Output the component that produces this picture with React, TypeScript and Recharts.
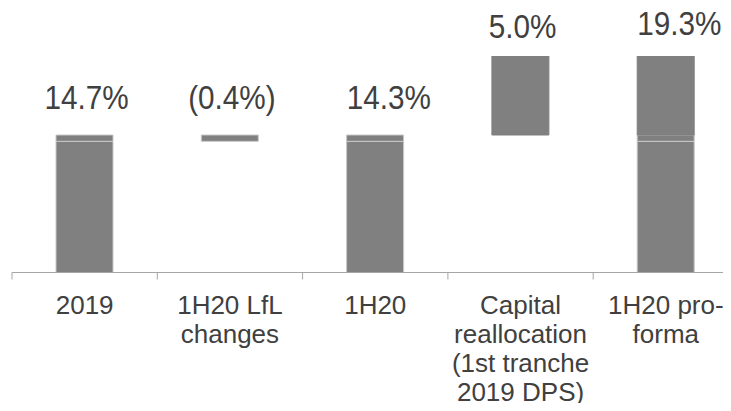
import React from "react";
import { ComposedChart, Bar, Line, XAxis, YAxis, LabelList } from "recharts";

// ---- data ----
const categories = [
  "2019",
  "1H20 LfL\nchanges",
  "1H20",
  "Capital\nreallocation\n(1st tranche\n2019 DPS)",
  "1H20 pro-\nforma",
];
const valueLabels = ["14.7%", "(0.4%)", "14.3%", "5.0%", "19.3%"];
// invisible offset under the floating bars
const floatBase = [0, 14.3, 0, 14.7, 0];
// drawn segments (stacked)
const coreSegment = [14.3, 0, 14.3, 0, 14.3];
const changeSegment = [0.4, 0.4, 0.4, 0, 0.4];
const upliftSegment = [0, 0, 0, 5.0, 5.0];
const yDomain: [number, number] = [6, 19.7];

// ---- layout / style ----
const PAGE_W = 731;
const PAGE_H = 411;
const CHART_W = 748;
const MARGIN = { top: 56, right: 9.5, bottom: 0, left: 12 };
const PLOT_H = 216.5;
const BAR_SIZE = 57;
const HALF_BAND = (CHART_W - MARGIN.left - MARGIN.right) / categories.length / 2;
const FONT = "'Liberation Sans', Arial, sans-serif";
const TEXT = "#404040";
const BAR = "#808080";
const BAR_EDGE = "#c8c8c8";
const AXIS = "#a6a6a6";
const SQUEEZE = 0.9;
// label alignment / gap per category (style only)
const LABEL_ALIGN = ["middle", "middle", "start", "middle", "start"];
const LABEL_GAP = [26, 26, 26, 18, 21];

const data = categories.map((name, i) => ({
  name,
  label: valueLabels[i],
  floatBase: floatBase[i],
  core: coreSegment[i],
  change: changeSegment[i],
  uplift: upliftSegment[i],
  top: floatBase[i] + coreSegment[i] + changeSegment[i] + upliftSegment[i],
}));

const CategoryTick = (props: any) => {
  const { x, y, payload } = props;
  const lines = String(payload.value).split("\n");
  return (
    <g>
      <line x1={x - HALF_BAND} x2={x - HALF_BAND} y1={y} y2={y + 7} stroke={AXIS} strokeWidth={1} />
      <text textAnchor="middle" style={{ fontFamily: FONT }} fontSize={26} fill={TEXT}>
        {lines.map((l, i) => (
          <tspan key={i} x={x} y={y + 41 + i * 29}>
            {l}
          </tspan>
        ))}
      </text>
    </g>
  );
};

const ValueLabel = (props: any) => {
  const { x, y, value, index } = props;
  if (value == null || !Number.isFinite(Number(x)) || !Number.isFinite(Number(y))) return null;
  const align = LABEL_ALIGN[index] || "middle";
  const gap = LABEL_GAP[index] ?? 24;
  const ax = align === "start" ? x - BAR_SIZE / 2 : x + 2;
  return (
    <text
      transform={`matrix(${SQUEEZE} 0 0 1 ${(1 - SQUEEZE) * ax} 0)`}
      x={ax}
      y={y - gap}
      textAnchor={align}
      style={{ fontFamily: FONT }}
      fontSize={33}
      fill={TEXT}
    >
      {value}
    </text>
  );
};

export default function App() {
  return (
    <div
      style={{
        width: PAGE_W,
        height: PAGE_H,
        margin: "-8px 0 -8px -8px",
        overflow: "hidden",
        fontFamily: FONT,
      }}
    >
      <ComposedChart width={CHART_W} height={PAGE_H} data={data} margin={MARGIN}>
        <XAxis
          dataKey="name"
          interval={0}
          height={PAGE_H - MARGIN.top - PLOT_H}
          tickSize={0}
          tickMargin={0}
          tickLine={false}
          axisLine={{ stroke: AXIS, strokeWidth: 1 }}
          tick={<CategoryTick />}
        />
        <YAxis hide domain={yDomain} allowDataOverflow type="number" />
        <Bar dataKey="floatBase" stackId="w" fill="transparent" barSize={BAR_SIZE} isAnimationActive={false} />
        <Bar dataKey="core" stackId="w" fill={BAR} stroke={BAR_EDGE} strokeWidth={1} barSize={BAR_SIZE} isAnimationActive={false} />
        <Bar dataKey="change" stackId="w" fill={BAR} stroke={BAR_EDGE} strokeWidth={1} barSize={BAR_SIZE} isAnimationActive={false} />
        <Bar dataKey="uplift" stackId="w" fill={BAR} stroke={BAR} strokeWidth={1} barSize={BAR_SIZE} isAnimationActive={false} />
        <Line dataKey="top" stroke="none" dot={false} activeDot={false} isAnimationActive={false}>
          <LabelList dataKey="label" content={<ValueLabel />} />
        </Line>
      </ComposedChart>
    </div>
  );
}
